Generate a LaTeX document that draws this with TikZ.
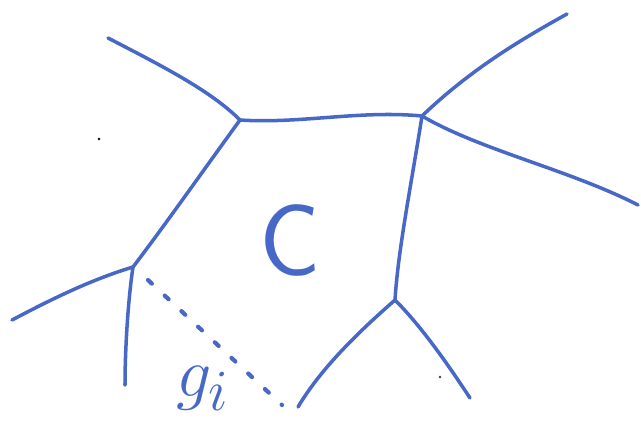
\documentclass[tikz,border=0pt]{standalone}
\usepackage{graphicx}
\usepackage{tikz}
\definecolor{pen}{RGB}{72,104,200}
\tikzset{edge/.style={pen,line width=2pt,line cap=round,line join=round}}
\begin{document}
\begin{tikzpicture}[x=0.02cm,y=-0.02cm]
  \useasboundingbox (0,0) rectangle (641,430);
  \coordinate (a) at (240,120);
  \coordinate (b) at (422,116);
  \coordinate (d) at (133,267);
  \coordinate (e) at (395,300);
  \coordinate (a1) at (108,38);
  \coordinate (b1) at (567,14);
  \coordinate (b2) at (638,205);
  \coordinate (d1) at (12,320);
  \coordinate (d2) at (125,385);
  \coordinate (e1) at (298,407);
  \coordinate (e2) at (470,398);
  \coordinate (g1) at (148,280);
  \coordinate (g2) at (282,405);
  \draw[edge] (a) .. controls (300,124) and (360,110) .. (b);
  \draw[edge] (a) .. controls (200,175) and (165,225) .. (d);
  \draw[edge] (b) .. controls (412,180) and (398,250) .. (e);
  \draw[edge] (a1) .. controls (160,65) and (210,90) .. (a);
  \draw[edge] (b) .. controls (470,70) and (520,40) .. (b1);
  \draw[edge] (b) .. controls (480,150) and (570,170) .. (b2);
  \draw[edge] (d) .. controls (90,280) and (50,300) .. (d1);
  \draw[edge] (d) .. controls (128,300) and (125,350) .. (d2);
  \draw[edge] (e) .. controls (355,335) and (320,370) .. (e1);
  \draw[edge] (e) .. controls (420,325) and (445,360) .. (e2);
  \draw[pen,line width=2.4pt,line cap=round,dash pattern=on 3pt off 10pt] (g1) -- (g2);
  \fill (99,139) circle (1.3);
  \fill[pen!60!black] (440,377) circle (1.3);
  \node[pen,font=\sffamily\fontsize{58}{58}\selectfont] (c) at (290,240) {C};
  \node[pen,font=\Huge] (g) at (203,388) {\scalebox{1.6}{$g_i$}};
\end{tikzpicture}
\end{document}
